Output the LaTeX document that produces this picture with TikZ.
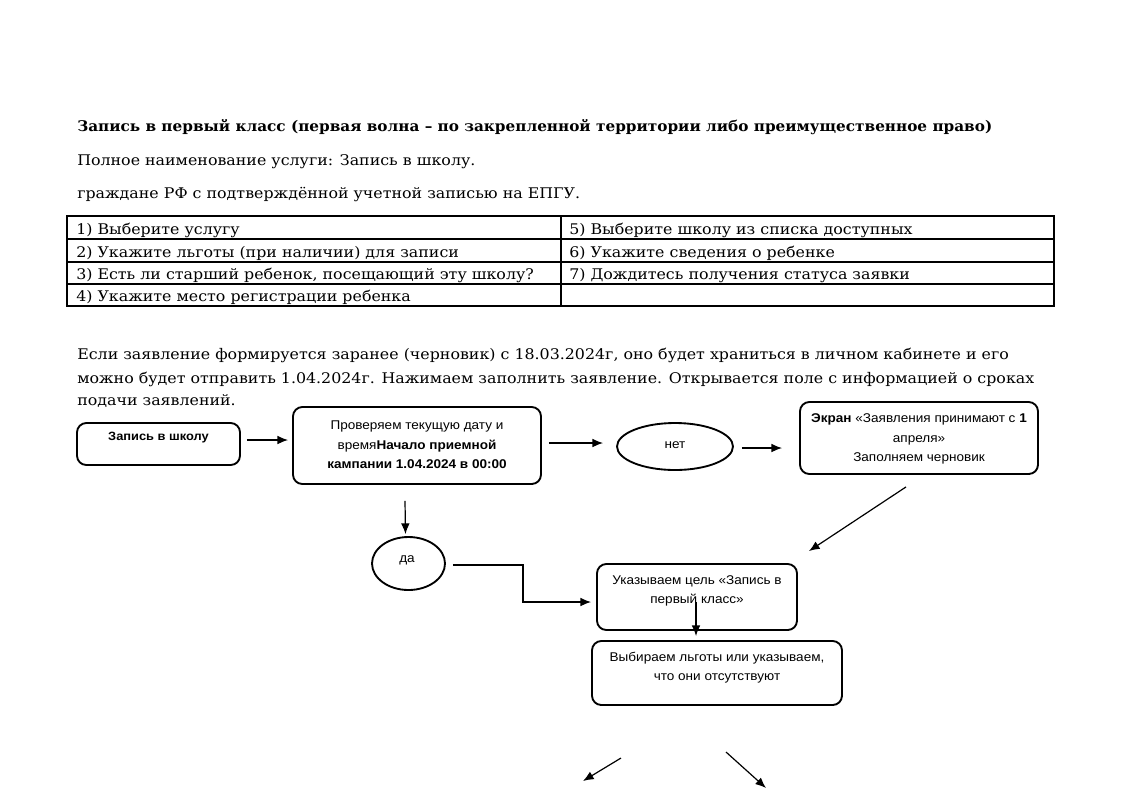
\documentclass[tikz,border=0pt]{standalone}
\usepackage{fontspec}
\setmainfont{DejaVu Serif}[FakeStretch=1.08, BoldFeatures={FakeStretch=1.04}]
\newfontfamily\diafont{Liberation Sans}[FakeStretch=1.07]
\usetikzlibrary{shapes.geometric,arrows.meta}
\tikzset{
  box/.style={draw, line width=1.4pt, rounded corners=7pt, inner sep=0pt},
  oval/.style={draw, line width=1.4pt, ellipse, inner sep=0pt},
  arr/.style={line width=0.9pt, -{Latex[length=8pt,width=6.5pt]}},
  body/.style={anchor=base west, inner sep=0pt, font=\fontsize{11}{13}\selectfont},
  cell/.style={anchor=base west, inner sep=0pt, font=\fontsize{11}{13}\selectfont},
  dtxt/.style={align=center, inner sep=0pt, font=\diafont\fontsize{9.5}{14.5}\selectfont},
  tline/.style={line width=0.8pt}
}
\begin{document}
\begin{tikzpicture}[x=0.75pt,y=-0.75pt]
\useasboundingbox (0,0) rectangle (1123,794);
% header texts
\node[body, font=\bfseries\fontsize{11}{13}\selectfont] (title) at (77,131) {Запись в первый класс (первая волна – по закрепленной территории либо преимущественное право)};
\node[body] (full) at (77,165) {Полное наименование услуги: Запись в школу.};
\node[body] (who) at (77,198) {граждане РФ с подтверждённой учетной записью на ЕПГУ.};
% table
\draw[tline] (67,216) rectangle (1054,306);
\draw[tline] (67,239) -- (1054,239);
\draw[tline] (67,262) -- (1054,262);
\draw[tline] (67,284) -- (1054,284);
\draw[tline] (561,216) -- (561,306);
\node[cell] (c1) at (76,234) {1) Выберите услугу};
\node[cell] (c2) at (76,257) {2) Укажите льготы (при наличии) для записи};
\node[cell] (c3) at (76,279) {3) Есть ли старший ребенок, посещающий эту школу?};
\node[cell] (c4) at (76,301) {4) Укажите место регистрации ребенка};
\node[cell] (c5) at (569,234) {5) Выберите школу из списка доступных};
\node[cell] (c6) at (569,257) {6) Укажите сведения о ребенке};
\node[cell] (c7) at (569,279) {7) Дождитесь получения статуса заявки};
% paragraph
\node[body] (p1) at (77,359) {Если заявление формируется заранее (черновик) с 18.03.2024г, оно будет храниться в личном кабинете и его};
\node[body] (p2) at (77,383) {можно будет отправить 1.04.2024г. Нажимаем заполнить заявление. Открывается поле с информацией о сроках};
\node[body] (p3) at (77,405) {подачи заявлений.};
% diagram boxes
\node[box, minimum width={163*0.75pt}, minimum height={42*0.75pt}] (b1) at (158.5,444) {};
\node[dtxt, font=\diafont\bfseries\fontsize{9}{14}\selectfont] (t1) at (158.5,438) {Запись в школу};
\node[box, minimum width={248*0.75pt}, minimum height={77*0.75pt}] (b2) at (417,445.5) {};
\node[dtxt] (t2) at (417,445) {Проверяем текущую дату и\\время\textbf{Начало приемной}\\\textbf{кампании 1.04.2024 в 00:00}};
\node[oval, minimum width={116*0.75pt}, minimum height={47*0.75pt}] (e1) at (675,446.5) {};
\node[dtxt] (t3) at (675,445) {нет};
\node[box, minimum width={238*0.75pt}, minimum height={72*0.75pt}] (b3) at (919,438) {};
\node[dtxt] (t4) at (919,439) {\textbf{Экран} «Заявления принимают с \textbf{1}\\апреля»\\Заполняем черновик};
\node[oval, minimum width={73*0.75pt}, minimum height={53*0.75pt}] (e2) at (408.5,563.5) {};
\node[dtxt] (t5) at (407,560) {да};
\node[box, minimum width={200*0.75pt}, minimum height={66*0.75pt}] (b4) at (697,597) {};
\node[dtxt] (t6) at (697,591) {Указываем цель «Запись в\\первый класс»};
\node[box, minimum width={250*0.75pt}, minimum height={64*0.75pt}] (b5) at (717,673) {};
\node[dtxt] (t7) at (717,667.5) {Выбираем льготы или указываем,\\что они отсутствуют};
% free-end coordinates
\coordinate (a1s) at (621,758);
\coordinate (a1e) at (583,781);
\coordinate (a2s) at (726,752);
\coordinate (a2e) at (766,788);
% connectors
\draw[arr] ([shift={(6,-4)}]b1.east) -- ([shift={(-4,-5.5)}]b2.west);
\draw[arr] ([shift={(7,-2.5)}]b2.east) -- ([shift={(-13,-3.5)}]e1.west);
\draw[arr] ([shift={(8,1.5)}]e1.east) -- ([shift={(-17,10)}]b3.west);
\draw[arr] ([shift={(-13,12)}]b3.south) -- ([shift={(11,-12)}]b4.north east);
\draw[arr] ([shift={(-12,16)}]b2.south) -- ([shift={(-3,-2)}]e2.north);
\draw[arr] ([shift={(7,1.5)}]e2.east) -- ++(70,0) |- ([shift={(-5,5)}]b4.west);
\draw[arr] ([shift={(-1,5)}]b4.center) -- ([shift={(-21,-4)}]b5.north);
\draw[arr] (a1s) -- (a1e);
\draw[arr] (a2s) -- (a2e);
\end{tikzpicture}
\end{document}
